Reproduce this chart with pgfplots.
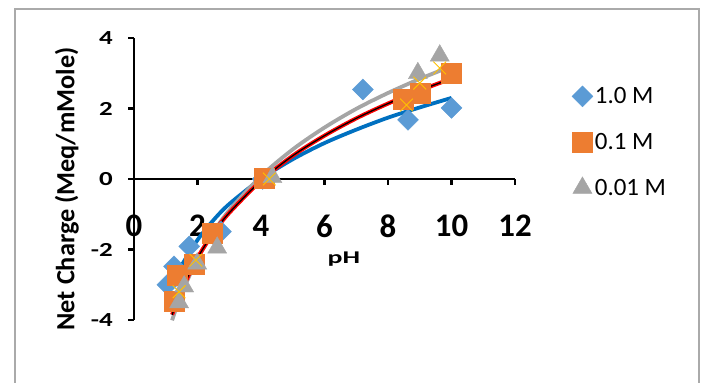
\documentclass[border=0pt]{standalone}
\usepackage{fontspec}
\setmainfont{Carlito}
\usepackage{graphicx}
\usepackage{pgfplots}
\pgfplotsset{compat=1.18}
\definecolor{cblue}{HTML}{5B9BD5}
\definecolor{corange}{HTML}{ED7D31}
\definecolor{cgray}{HTML}{A5A5A5}
\definecolor{cyellow}{HTML}{FFC000}
\definecolor{lblue}{HTML}{0070C0}
\definecolor{frame}{HTML}{AAAAAA}
\begin{document}
\begin{tikzpicture}
\useasboundingbox (0,0) rectangle (702bp,383bp);
\draw[frame, line width=1.5bp] (15bp,-2bp) -- (15bp,374bp) -- (699bp,374bp) -- (699bp,-2bp);
\begin{axis}[
  at={(134bp,63bp)}, anchor=south west,
  scale only axis, width=381bp, height=282bp,
  xmin=0, xmax=12, ymin=-4, ymax=4,
  axis x line=middle, axis y line=left,
  axis line style={-, line width=2.5bp, black},
  xtick={0,2,...,12}, ytick={-4,-2,...,4},
  tick align=outside, major tick length=6bp,
  tick style={line width=2.5bp, black},
  hide obscured x ticks=false, hide obscured y ticks=false,
  /pgf/number format/assume math mode=true,
  xticklabel style={font=\bfseries\fontsize{33}{36}\selectfont, anchor=north, inner sep=0pt, yshift=-30bp},
  yticklabel={\scalebox{1.35}[1]{\pgfmathprintnumber{\tick}}},
  yticklabel style={font=\bfseries\fontsize{20}{21}\selectfont, anchor=east, inner sep=0pt, xshift=-15bp},
  every axis x label/.style={at={(axis description cs:0.551,0.216)}, anchor=center, font=\bfseries\fontsize{18}{20}\selectfont},
  every axis y label/.style={at={(axis description cs:-0.176,0.465)}, rotate=90, anchor=center, font=\bfseries\fontsize{26.4}{28}\selectfont},
  xlabel={\scalebox{1.55}[1]{pH}},
  ylabel={Net Charge (Meq/mMole)},
  clip=false,
  legend style={draw=none, fill=none, at={(axis description cs:1.149,0.832)}, anchor=north west, font=\fontsize{25}{27}\selectfont, row sep=24bp, inner sep=0pt},
  legend cell align=left,
]
\addplot[only marks, mark=square*, mark size=7.4bp, mark options={rotate=45, fill=cblue, draw=cblue}]
  coordinates {(1.05,-3.0) (1.26,-2.48) (1.74,-1.91) (2.74,-1.49) (4.05,0) (7.21,2.54) (8.63,1.68) (10.0,2.02)};
\addlegendentry{1.0 M}
\addplot[only marks, mark=square*, mark size=10bp, mark options={fill=corange, draw=corange}]
  coordinates {(1.26,-3.48) (1.37,-2.72) (1.9,-2.43) (2.47,-1.53) (4.1,0.03) (8.47,2.25) (9.0,2.44) (10.0,3.01)};
\addlegendentry{0.1 M}
\addplot[only marks, mark=triangle*, mark size=11bp, mark options={fill=cgray, draw=cgray}]
  coordinates {(1.42,-3.5) (1.58,-3.05) (1.99,-2.4) (2.62,-1.95) (4.36,0.05) (8.94,3.0) (9.63,3.5)};
\addlegendentry{0.01 M}
\addplot[only marks, mark=x, mark size=9bp, mark options={draw=cyellow, line width=0.9bp}, forget plot]
  coordinates {(1.42,-3.2) (1.95,-2.3) (4.26,0) (8.58,2.1) (9.0,2.72) (9.63,3.15)};
% trendlines (logarithmic fits)
\addplot[lblue, line width=3.8bp, smooth, forget plot]
  coordinates {(1.2,-3.00) (1.5,-2.45) (2,-1.73) (2.5,-1.17) (3,-0.71) (4,0.00) (5,0.56) (6,1.02) (7,1.40) (8,1.74) (9,2.03) (10,2.30)};
\addplot[cgray, line width=3.8bp, smooth, forget plot]
  coordinates {(1.2,-4.01) (1.5,-3.25) (2,-2.27) (2.5,-1.51) (3,-0.89) (4,0.08) (5,0.84) (6,1.46) (7,1.99) (8,2.44) (9,2.84) (10,3.20)};
\addplot[red, line width=4bp, smooth, forget plot]
  coordinates {(1.2,-3.85) (1.5,-3.15) (2,-2.24) (2.5,-1.53) (3,-0.96) (4,-0.05) (5,0.66) (6,1.23) (7,1.72) (8,2.14) (9,2.51) (10,2.85)};
\addplot[black, line width=1.3bp, smooth, forget plot]
  coordinates {(1.2,-3.85) (1.5,-3.15) (2,-2.24) (2.5,-1.53) (3,-0.96) (4,-0.05) (5,0.66) (6,1.23) (7,1.72) (8,2.14) (9,2.51) (10,2.85)};
\end{axis}
\end{tikzpicture}
\end{document}
